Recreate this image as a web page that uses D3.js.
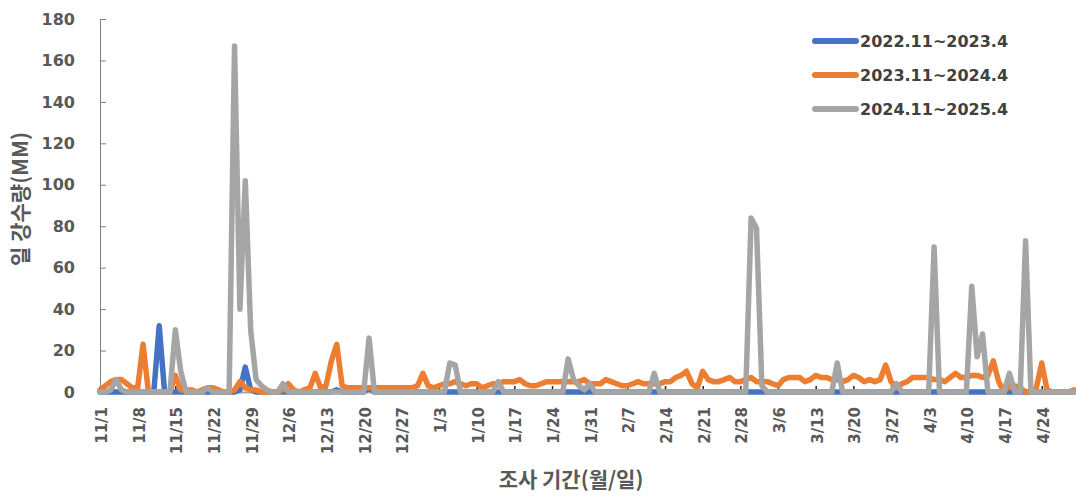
<!DOCTYPE html>
<html>
<head>
<meta charset="utf-8">
<script src="https://cdn.jsdelivr.net/npm/d3@7"></script>
<style>
  body { margin: 0; background: #fff; }
  svg { display: block; }
</style>
</head>
<body>
<svg id="chart" width="1076" height="499"></svg>
<script>
// Daily precipitation (mm), Nov 1 – Apr 30, one array per winter season
const seriesNames = ["2022.11~2023.4", "2023.11~2024.4", "2024.11~2025.4"];
const seriesColors = ["#4472C4", "#ED7D31", "#A5A5A5"];

const season2022 = [
  0,0,0,0,0,0,0,0,0,0,
  0,32,0,0,0,0,0,0,0,0,
  0,0,0,0,0,0,1,12,1,0,
  0,0,0,0,0,0,0,0,0,0,
  0,0,0,0,1,0,0,0,0,0,
  2,0,0,0,0,0,0,0,0,0,
  0,0,0,0,0,0,0,0,0,0,
  0,0,0,0,0,0,0,0,0,0,
  0,0,0,0,0,0,0,0,0,0,
  0,0,0,0,0,0,0,0,0,0,
  0,0,0,0,0,0,0,0,0,0,
  0,0,0,0,0,0,0,0,0,0,
  0,0,0,0,0,0,0,0,0,0,
  0,0,0,0,0,0,0,0,0,0,
  0,0,0,0,0,0,0,0,0,0,
  0,0,0,0,0,0,0,0,0,0,
  0,0,0,0,0,0,0,0,0,0,
  0,0,0,0,0,0,0,0,0,0,
  0,0
];

const season2023 = [
  1,3,5,6,6,4,2,2,23,0,
  0,0,0,0,8,1,1,1,0,1,
  2,2,1,0,0,1,5,2,1,1,
  0,0,0,0,1,4,1,0,1,2,
  9,2,3,15,23,3,2,2,2,2,
  2,2,2,2,2,2,2,2,2,3,
  9,3,2,3,4,4,5,4,3,4,
  4,2,3,4,4,5,5,5,6,4,
  3,3,4,5,5,5,5,5,5,5,
  6,4,4,4,6,5,4,3,3,4,
  5,4,4,4,4,5,5,7,8,10,
  4,2,10,6,5,5,6,7,5,5,
  6,7,5,5,5,4,3,6,7,7,
  7,5,6,8,7,7,6,6,5,6,
  8,7,5,6,5,6,13,5,2,4,
  5,7,7,7,7,6,6,5,7,9,
  7,7,8,8,7,8,15,5,0,3,
  3,2,0,0,2,14,1,0,0,0,
  0,1
];

const season2024 = [
  0,0,1,6,1,0,0,0,0,0,
  0,0,0,0,30,10,0,0,0,0,
  2,0,0,0,0,167,40,102,30,6,
  3,1,0,0,4,0,0,0,0,0,
  0,0,0,0,0,0,0,0,0,0,
  26,0,0,0,0,0,0,0,0,0,
  0,0,0,0,0,14,13,0,0,0,
  0,0,0,0,5,0,0,0,0,0,
  0,0,0,0,0,0,0,16,6,3,
  1,4,0,0,0,0,0,0,0,0,
  0,0,0,9,0,0,0,0,0,0,
  0,0,0,0,0,0,0,0,0,0,
  0,84,79,3,0,0,0,0,0,0,
  0,0,0,0,0,0,0,14,0,0,
  0,0,0,0,0,0,0,0,4,0,
  0,0,0,0,0,70,0,0,0,0,
  0,0,51,17,28,0,0,0,0,9,
  0,0,73,0,0,0,0,0,0,0,
  0,0
];

const yTicks = [0, 20, 40, 60, 80, 100, 120, 140, 160, 180];
const xTickLabels = ["11/1","11/8","11/15","11/22","11/29","12/6","12/13","12/20","12/27",
  "1/3","1/10","1/17","1/24","1/31","2/7","2/14","2/21","2/28","3/6","3/13","3/20",
  "3/27","4/3","4/10","4/17","4/24"];

// Category axis: every calendar day Nov 1 – Apr 30 (leap-year calendar, incl. 2/29)
const days = d3.timeDay.range(new Date(2023, 10, 1), new Date(2024, 4, 1));
const dayLabels = days.map(d => `${d.getMonth() + 1}/${d.getDate()}`);

const seriesData = [season2022, season2023, season2024];

const svg = d3.select("#chart");
const x = d3.scaleLinear().domain([0, dayLabels.length - 1]).range([100, 1074]);
const y = d3.scaleLinear().domain([0, 180]).range([392, 19]);

const numFont = "'DejaVu Sans', 'Noto Sans CJK KR', sans-serif";
const krFont = "'Noto Sans CJK KR', 'Noto Sans', sans-serif";
const textColor = "#595959";

// Y axis
const yAxis = svg.append("g")
  .attr("transform", "translate(100,0)")
  .call(d3.axisLeft(y).tickValues(yTicks).tickSizeInner(-6).tickSizeOuter(0).tickPadding(25));
yAxis.select(".domain").attr("stroke", "#7f7f7f");
yAxis.selectAll(".tick line").attr("stroke", "#7f7f7f");
yAxis.selectAll("text")
  .attr("fill", textColor)
  .style("font-family", numFont)
  .style("font-weight", "bold")
  .style("font-size", "16px");

// X axis
const tickIdx = xTickLabels.map(l => dayLabels.indexOf(l));
const xAxis = svg.append("g")
  .attr("transform", "translate(0,392)")
  .call(d3.axisBottom(x).tickValues(tickIdx).tickFormat(i => dayLabels[i])
    .tickSizeInner(-6).tickSizeOuter(0));
xAxis.select(".domain").attr("stroke", "#a6a6a6").attr("stroke-width", 2);
xAxis.selectAll(".tick line").attr("stroke", "#222").attr("stroke-width", 1.5);
xAxis.selectAll("text")
  .attr("transform", "rotate(-90)")
  .attr("text-anchor", "end")
  .attr("x", -15)
  .attr("y", 1)
  .attr("dy", "0.36em")
  .attr("fill", textColor)
  .style("font-family", numFont)
  .style("font-weight", "bold")
  .style("font-size", "15px");

// Series lines
const line = d3.line().x((d, i) => x(i)).y(d => y(d));
svg.append("g").selectAll("path")
  .data(seriesData)
  .join("path")
  .attr("d", line)
  .attr("fill", "none")
  .attr("stroke", (d, i) => seriesColors[i])
  .attr("stroke-width", 5.5)
  .attr("stroke-linejoin", "round")
  .attr("stroke-linecap", "round");

// Axis titles
svg.append("text")
  .attr("transform", "translate(28,199) rotate(-90)")
  .attr("text-anchor", "middle")
  .attr("fill", textColor)
  .style("font-family", krFont)
  .style("font-weight", "bold")
  .style("font-size", "21px")
  .text("일 강수량(MM)");

svg.append("text")
  .attr("x", 571)
  .attr("y", 487)
  .attr("text-anchor", "middle")
  .attr("fill", textColor)
  .style("font-family", krFont)
  .style("font-weight", "bold")
  .style("font-size", "21px")
  .text("조사 기간(월/일)");

// Legend
const legendY = [41, 75, 109];
const legend = svg.append("g").selectAll("g")
  .data(seriesNames)
  .join("g")
  .attr("transform", (d, i) => `translate(0,${legendY[i]})`);
legend.append("line")
  .attr("x1", 815).attr("x2", 856)
  .attr("stroke", (d, i) => seriesColors[i])
  .attr("stroke-width", 6)
  .attr("stroke-linecap", "round");
legend.append("text")
  .attr("x", 860)
  .attr("dy", "0.36em")
  .attr("fill", "#404040")
  .style("font-family", numFont)
  .style("font-weight", "bold")
  .style("font-size", "16px")
  .text(d => d);
</script>
</body>
</html>
